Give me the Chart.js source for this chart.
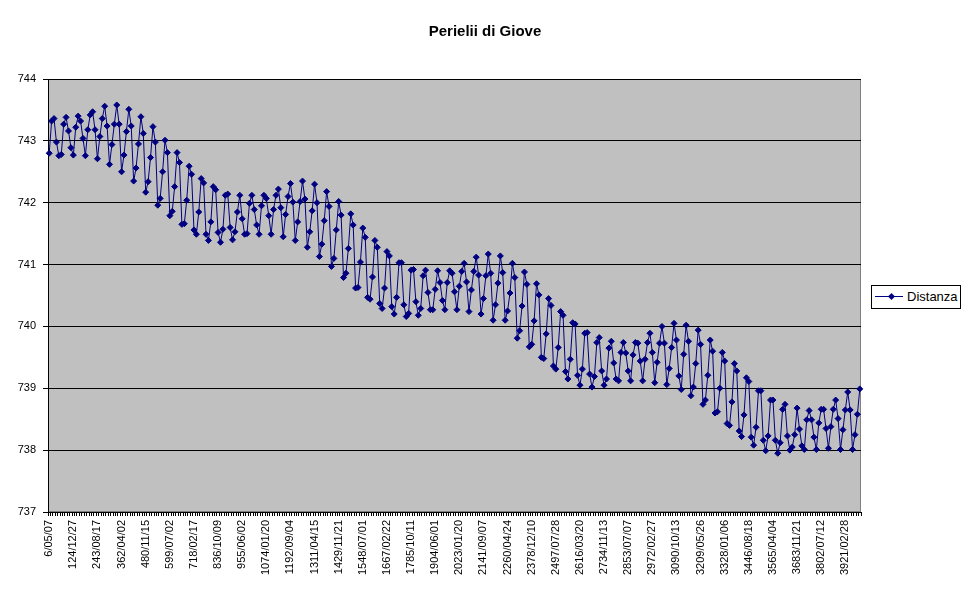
<!DOCTYPE html>
<html>
<head>
<meta charset="utf-8">
<script src="https://cdn.jsdelivr.net/npm/chart.js@4.4.0/dist/chart.umd.min.js"></script>
<style>
  html, body { margin: 0; padding: 0; background: #ffffff; }
  #wrap { position: relative; width: 970px; height: 603px; }
  #legend {
    position: absolute; left: 871px; top: 285px; width: 88px; height: 22px;
    border: 1px solid #000; background: #fff; font-family: 'Liberation Sans', Arial, sans-serif;
    font-size: 13px; color: #000;
  }
  #legend .ln { position: absolute; left: 3px; top: 10px; width: 28px; height: 1px; background: #000080; }
  #legend .mk { position: absolute; left: 17px; top: 8px; width: 5px; height: 5px; background: #000080; transform: rotate(45deg); }
  #legend .tx { position: absolute; left: 35px; top: 3px; line-height: 15px; white-space: nowrap; }
</style>
</head>
<body>
<div id="wrap">
  <canvas id="c" width="970" height="603"></canvas>
  <div id="legend"><div class="ln"></div><div class="mk"></div><div class="tx" id="legtx"></div></div>
</div>
<script>
const chartTitle = 'Perielii di Giove';
const seriesName = 'Distanza';

// labels shown every 10th perihelion
const tickLabels = [
  '6/05/07','124/12/27','243/08/17','362/04/02','480/11/15','599/07/02','718/02/17','836/10/09',
  '955/06/02','1074/01/20','1192/09/04','1311/04/15','1429/11/21','1548/07/01','1667/02/22','1785/10/11',
  '1904/06/01','2023/01/20','2141/09/07','2260/04/24','2378/12/10','2497/07/28','2616/03/20','2734/11/13',
  '2853/07/07','2972/02/27','3090/10/13','3209/05/26','3328/01/06','3446/08/18','3565/04/04','3683/11/21',
  '3802/07/12','3921/02/28'
];

const yTicks = [737, 738, 739, 740, 741, 742, 743, 744];

const distanza = [
  742.80,743.32,743.36,742.98,742.76,742.78,743.27,743.38,743.16,742.89,
  742.77,743.22,743.40,743.32,743.04,742.76,743.18,743.42,743.47,743.18,
  742.71,743.07,743.36,743.56,743.24,742.62,742.94,743.27,743.58,743.27,
  742.50,742.77,743.15,743.51,743.24,742.35,742.56,742.95,743.39,743.12,
  742.17,742.34,742.73,743.23,742.98,741.96,742.07,742.50,743.01,742.81,
  741.79,741.86,742.26,742.81,742.65,741.65,741.66,742.04,742.59,742.46,
  741.56,741.49,741.85,742.39,742.32,741.49,741.39,741.69,742.26,742.21,
  741.52,741.36,741.57,742.12,742.14,741.60,741.40,741.53,741.85,742.12,
  741.74,741.49,741.50,741.99,742.12,741.89,741.64,741.49,741.95,742.12,
  742.07,741.79,741.49,741.89,742.12,742.22,741.92,741.45,741.81,742.10,
  742.31,742.01,741.39,741.69,742.02,742.35,742.06,741.28,741.53,741.87,
  742.30,742.00,741.13,741.33,741.71,742.18,741.94,740.97,741.10,741.56,
  742.02,741.80,740.79,740.86,741.26,741.82,741.64,740.62,740.63,741.04,
  741.59,741.44,740.47,740.44,740.80,741.39,741.28,740.37,740.29,740.62,
  741.21,741.14,740.32,740.20,740.47,741.03,741.03,740.35,740.16,740.21,
  740.91,740.92,740.40,740.18,740.29,740.82,740.91,740.55,740.27,740.27,
  740.60,740.90,740.71,740.42,740.27,740.71,740.90,740.86,740.56,740.27,
  740.65,740.89,741.02,740.72,740.24,740.59,740.89,741.12,740.83,740.20,
  740.45,740.82,741.17,740.86,740.10,740.35,740.70,741.14,740.87,740.10,
  740.25,740.54,741.02,740.79,739.81,739.93,740.33,740.88,740.68,739.67,
  739.71,740.09,740.69,740.51,739.50,739.48,739.88,740.45,740.34,739.36,
  739.31,739.66,740.24,740.18,739.27,739.15,739.47,740.06,740.04,739.21,
  739.05,739.31,739.89,739.90,739.23,739.02,739.19,739.74,739.82,739.28,
  739.05,739.15,739.65,739.76,739.41,739.15,739.12,739.58,739.74,739.57,
  739.28,739.12,739.54,739.74,739.73,739.44,739.12,739.47,739.74,739.89,
  739.58,739.09,739.42,739.73,740.00,739.73,739.06,739.32,739.66,740.05,
  739.78,739.20,738.98,739.55,740.02,739.76,738.88,739.02,739.40,739.94,
  739.71,738.74,738.81,739.21,739.78,739.60,738.60,738.62,739.00,739.58,
  739.44,738.43,738.40,738.78,739.40,739.28,738.31,738.22,738.57,739.17,
  739.11,738.21,738.08,738.37,738.96,738.96,738.16,737.99,738.23,738.81,
  738.81,738.16,737.95,738.12,738.66,738.74,738.23,738.00,738.05,738.25,
  738.68,738.34,738.07,738.01,738.49,738.64,738.49,738.21,738.01,738.44,
  738.66,738.66,738.35,738.03,738.38,738.66,738.81,738.51,738.01,738.33,
  738.65,738.94,738.65,738.01,738.25,738.58,738.99
];

// category list: one entry per perihelion, labelled every 10th
const categories = distanza.map((v, i) => (i % 10 === 0 && tickLabels[i / 10]) ? tickLabels[i / 10] : '');

document.getElementById('legtx').textContent = seriesName;

const FONT = "'Liberation Sans', Arial, sans-serif";

const plotBg = {
  id: 'plotBg',
  beforeDraw(chart) {
    const { ctx, chartArea: a } = chart;
    ctx.save();
    ctx.fillStyle = '#C0C0C0';
    ctx.fillRect(a.left, a.top, a.right - a.left, a.bottom - a.top);
    ctx.strokeStyle = '#808080';
    ctx.lineWidth = 1;
    ctx.strokeRect(a.left + 0.5, a.top + 0.5, a.right - a.left - 1, a.bottom - a.top - 1);
    ctx.restore();
  },
  afterDraw(chart) {
    const ctx = chart.ctx;
    ctx.save();
    ctx.fillStyle = '#000';
    ctx.font = 'bold 15px ' + FONT;
    ctx.textAlign = 'center';
    ctx.textBaseline = 'middle';
    ctx.fillText(chartTitle, chart.width / 2, 32);
    ctx.restore();
  }
};

new Chart(document.getElementById('c'), {
  type: 'line',
  data: {
    labels: categories,
    datasets: [{
      label: seriesName,
      data: distanza,
      borderColor: '#000080',
      backgroundColor: '#000080',
      borderWidth: 1,
      tension: 0,
      pointStyle: 'rectRot',
      pointRadius: 3,
      pointBorderWidth: 1,
      pointBackgroundColor: '#000080',
      pointBorderColor: '#000080',
      fill: false
    }]
  },
  options: {
    responsive: false,
    animation: false,
    devicePixelRatio: 1,
    layout: { padding: { left: 0, right: 109, top: 79, bottom: 0 } },
    plugins: {
      legend: { display: false },
      tooltip: { enabled: false },
      title: { display: false }
    },
    scales: {
      x: {
        type: 'category',
        offset: true,
        border: { color: '#000', width: 1 },
        grid: { drawOnChartArea: false, drawTicks: true, tickLength: 4, color: '#000', offset: true },
        ticks: {
          autoSkip: false,
          minRotation: 90,
          maxRotation: 90,
          padding: 4,
          color: '#000',
          font: { family: FONT, size: 11 }
        },
        afterFit(scale) { scale.height = 91; }
      },
      y: {
        min: yTicks[0],
        max: yTicks[yTicks.length - 1],
        border: { color: '#000', width: 1 },
        grid: { color: '#000', lineWidth: 1, drawTicks: true, tickLength: 5 },
        afterBuildTicks(scale) { scale.ticks = yTicks.map(v => ({ value: v })); },
        ticks: {
          padding: 7,
          color: '#000',
          font: { family: FONT, size: 11 }
        },
        afterFit(scale) { scale.width = 48; }
      }
    }
  },
  plugins: [plotBg]
});
</script>
</body>
</html>
